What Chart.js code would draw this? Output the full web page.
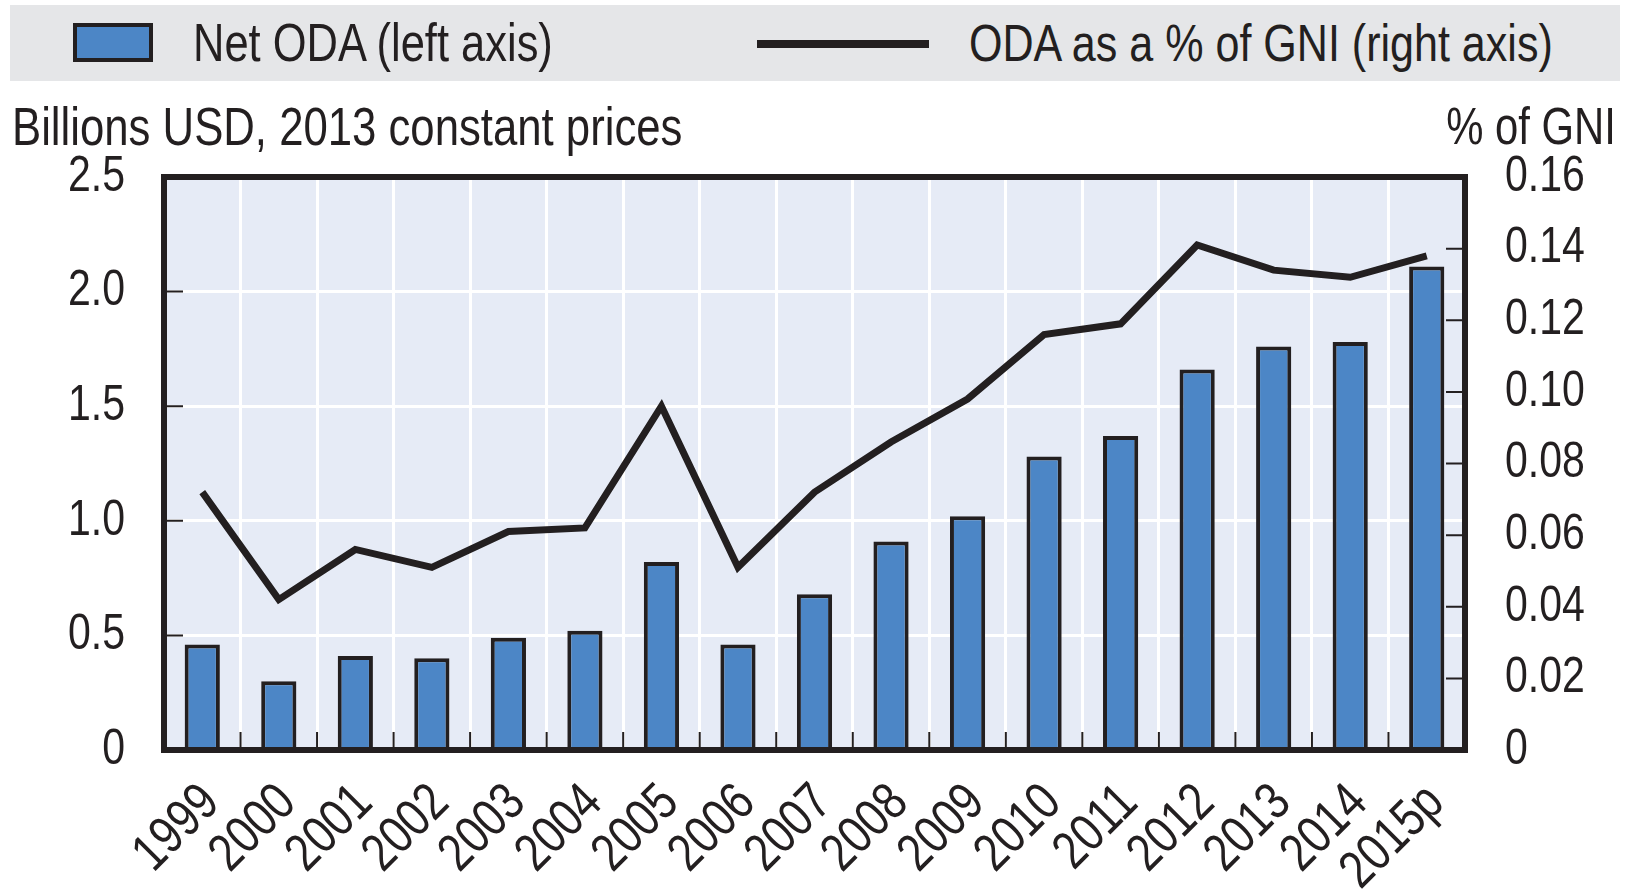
<!DOCTYPE html>
<html>
<head>
<meta charset="utf-8">
<title>Net ODA</title>
<script src="https://cdn.jsdelivr.net/npm/chart.js@4.4.1/dist/chart.umd.min.js"></script>
<style>
  html, body { margin: 0; padding: 0; background: #fff; }
  #wrap {
    position: relative; width: 1633px; height: 890px; overflow: hidden;
    font-family: "Liberation Sans", Arial, sans-serif;
    color: #231f20;
  }
  #chart { position: absolute; left: 0; top: 0; }
  #legend { position: absolute; left: 10px; top: 5px; width: 1610px; height: 76px; background: #e5e6e8; }
  #legend .box { position: absolute; left: 63px; top: 18px; width: 72px; height: 31px; background: #4c86c6; border: 4px solid #231f20; }
  #legend .line { position: absolute; left: 747px; top: 35px; width: 172px; height: 8px; background: #231f20; }
  /* no narrow face installed: squeeze Liberation Sans to Arial Narrow width */
  .narrow { transform: scaleX(0.82); transform-origin: 0 50%; }
  #legend .txt { position: absolute; top: 0; height: 76px; line-height: 76px; font-size: 53px; white-space: nowrap; }
  .unit { position: absolute; top: 100px; font-size: 53px; line-height: 53px; white-space: nowrap; }
  .unit.right { transform-origin: 100% 50%; }
</style>
</head>
<body>
<div id="wrap">
  <canvas id="chart" width="1633" height="890"></canvas>
  <div id="legend">
    <div class="box"></div>
    <div class="txt narrow" style="left:183px">Net ODA (left axis)</div>
    <div class="line"></div>
    <div class="txt narrow" style="left:959px; font-size:52.5px">ODA as a % of GNI (right axis)</div>
  </div>
  <div class="unit narrow" style="left:12px; font-size:53.3px">Billions USD, 2013 constant prices</div>
  <div class="unit narrow right" style="right:17px; font-size:51px">% of GNI</div>
</div>
<script>
const years = ['1999', '2000', '2001', '2002', '2003', '2004', '2005', '2006', '2007',
  '2008', '2009', '2010', '2011', '2012', '2013', '2014', '2015p'];
// billions USD, 2013 constant prices
const netOda = [0.46, 0.30, 0.41, 0.40, 0.49, 0.52, 0.82, 0.46, 0.68,
  0.91, 1.02, 1.28, 1.37, 1.66, 1.76, 1.78, 2.11];
// % of GNI
const odaGni = [0.072, 0.042, 0.056, 0.051, 0.061, 0.062, 0.096, 0.051, 0.072,
  0.086, 0.098, 0.116, 0.119, 0.141, 0.134, 0.132, 0.138];
const leftTicks = [0, 0.5, 1.0, 1.5, 2.0, 2.5];
const rightTicks = [0, 0.02, 0.04, 0.06, 0.08, 0.10, 0.12, 0.14, 0.16];

const ink = '#231f20';
const fontFamily = '"Liberation Sans", Arial, sans-serif';

const canvas = document.getElementById('chart');
// all canvas text here is tick labels; draw it condensed like the original
const ctx2d = canvas.getContext('2d');
const plainFillText = ctx2d.fillText.bind(ctx2d);
ctx2d.fillText = function (text, x, y, maxWidth) {
  this.save();
  this.translate(x, y);
  this.scale(0.82, 1);
  plainFillText(text, 0, 0);
  this.restore();
};

const framePlugin = {
  id: 'frame',
  beforeDraw(chart) {
    const a = chart.chartArea, ctx = chart.ctx;
    ctx.save();
    ctx.fillStyle = '#e6ebf6';
    ctx.fillRect(a.left, a.top, a.right - a.left, a.bottom - a.top);
    ctx.restore();
  },
  beforeDatasetsDraw(chart) {
    const a = chart.chartArea, ctx = chart.ctx;
    const y = chart.scales.y, y2 = chart.scales.y2, x = chart.scales.x;
    ctx.save();
    ctx.strokeStyle = ink;
    ctx.lineWidth = 2;
    ctx.beginPath();
    leftTicks.slice(1, -1).forEach(v => {
      const py = y.getPixelForValue(v);
      ctx.moveTo(a.left, py); ctx.lineTo(a.left + 19, py);
    });
    rightTicks.slice(1, -1).forEach(v => {
      const py = y2.getPixelForValue(v);
      ctx.moveTo(a.right, py); ctx.lineTo(a.right - 19, py);
    });
    for (let i = 1; i < years.length; i++) {
      const px = (x.getPixelForValue(i - 1) + x.getPixelForValue(i)) / 2;
      ctx.moveTo(px, a.bottom); ctx.lineTo(px, a.bottom - 18);
    }
    ctx.stroke();
    ctx.restore();
  },
  afterDatasetsDraw(chart) {
    const a = chart.chartArea, ctx = chart.ctx;
    ctx.save();
    ctx.strokeStyle = ink;
    ctx.lineWidth = 6;
    ctx.strokeRect(a.left, a.top, a.right - a.left, a.bottom - a.top);
    ctx.restore();
  }
};

new Chart(canvas, {
  data: {
    labels: years,
    datasets: [
      {
        type: 'line',
        label: 'ODA as a % of GNI (right axis)',
        data: odaGni,
        yAxisID: 'y2',
        borderColor: ink,
        borderWidth: 7,
        pointRadius: 0,
        tension: 0,
        borderJoinStyle: 'miter',
        order: 0
      },
      {
        type: 'bar',
        label: 'Net ODA (left axis)',
        data: netOda,
        yAxisID: 'y',
        backgroundColor: '#4c86c6',
        borderColor: ink,
        borderWidth: 4,
        barPercentage: 0.46,
        categoryPercentage: 1,
        order: 1
      }
    ]
  },
  options: {
    responsive: false,
    animation: false,
    layout: { padding: { top: 177, left: 0, right: 0, bottom: 0 } },
    plugins: { legend: { display: false }, tooltip: { enabled: false } },
    scales: {
      x: {
        grid: { offset: true, color: '#ffffff', lineWidth: 3, drawTicks: false },
        border: { display: false },
        ticks: {
          autoSkip: false,
          minRotation: 45, maxRotation: 45, padding: 22, labelOffset: 9, color: ink,
          font: { family: fontFamily, size: 53 }
        },
        afterFit: s => { s.height = 140; }
      },
      y: {
        position: 'left',
        min: 0, max: 2.5,
        afterBuildTicks: s => { s.ticks = leftTicks.map(v => ({ value: v })); },
        grid: { color: '#ffffff', lineWidth: 3, drawTicks: false },
        border: { display: false },
        ticks: {
          padding: 39, color: ink,
          font: { family: fontFamily, size: 50 },
          callback: v => v === 0 ? '0' : v.toFixed(1)
        },
        afterFit: s => { s.width = 164; }
      },
      y2: {
        position: 'right',
        min: 0, max: 0.16,
        afterBuildTicks: s => { s.ticks = rightTicks.map(v => ({ value: v })); },
        grid: { display: false, drawTicks: false },
        border: { display: false },
        ticks: {
          padding: 40, color: ink,
          font: { family: fontFamily, size: 50 },
          callback: v => v === 0 ? '0' : v.toFixed(2)
        },
        afterFit: s => { s.width = 168; }
      }
    }
  },
  plugins: [framePlugin]
});
</script>
</body>
</html>
